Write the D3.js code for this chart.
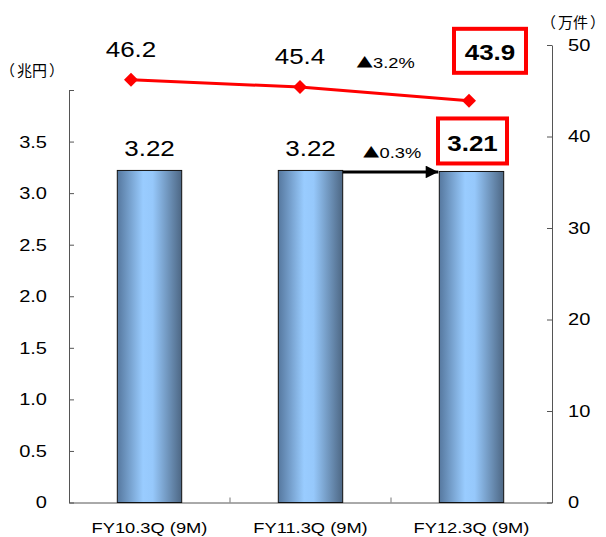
<!DOCTYPE html>
<html><head><meta charset="utf-8">
<script src="https://cdn.jsdelivr.net/npm/d3@7"></script>
<style>body{margin:0;background:#fff}svg{display:block}</style>
</head><body>
<script>
const categories = ["FY10.3Q (9M)", "FY11.3Q (9M)", "FY12.3Q (9M)"];
const amountTrillionYen = [3.22, 3.22, 3.21];
const amountLabels = ["3.22", "3.22", "3.21"];
const countTenThousand = [46.2, 45.4, 43.9];
const countLabels = ["46.2", "45.4", "43.9"];
const leftTicks = [0, 0.5, 1, 1.5, 2, 2.5, 3, 3.5, 4];
const leftTickLabels = ["0", "0.5", "1.0", "1.5", "2.0", "2.5", "3.0", "3.5", ""];
const rightTicks = [0, 10, 20, 30, 40, 50];
const rightTickLabels = ["0", "10", "20", "30", "40", "50"];
const leftUnit = ["（", "兆円", "）"];
const rightUnit = ["（", "万件", "）"];
const amountChange = ["▲", "0.3%"];
const countChange = ["▲", "3.2%"];

const W = 606, H = 537, SX = 1.18;
const FONT = "'Liberation Sans', Arial, sans-serif";
const JFONT = "'Noto Sans CJK JP', sans-serif";

const svg = d3.select("body").append("svg").attr("width", W).attr("height", H)
  .style("font-family", FONT);

const defs = svg.append("defs");
const grad = defs.append("linearGradient").attr("id", "barGrad")
  .attr("x1", "0").attr("x2", "1").attr("y1", "0").attr("y2", "0");
[[0, "#56789f"], [0.4, "#99ccff"], [0.55, "#96c8fb"], [1, "#4d6784"]].forEach(([o, c]) =>
  grad.append("stop").attr("offset", o).attr("stop-color", c));
const mk = defs.append("marker").attr("id", "arrowHead").attr("viewBox", "0 0 10 10")
  .attr("refX", 10).attr("refY", 5).attr("markerWidth", 4.6).attr("markerHeight", 4.2)
  .attr("orient", "auto").attr("markerUnits", "strokeWidth");
mk.append("path").attr("d", "M0,0L10,5L0,10Z").attr("fill", "#000");

const x = d3.scaleBand().domain(categories).range([69, 552]).paddingInner(0.6).paddingOuter(0.3);
const xLine = d3.scalePoint().domain(categories).range([131, 469]);
const yL = d3.scaleLinear().domain([0, 4]).range([502.5, 90]);
const yR = d3.scaleLinear().domain([0, 50]).range([502.5, 45]);

function stext(g, px, py, str, size, opts = {}) {
  return g.append("text")
    .attr("transform", `translate(${px},${py}) scale(${SX},1)`)
    .attr("text-anchor", opts.anchor || "middle")
    .attr("font-size", size)
    .attr("font-weight", opts.bold ? "bold" : "normal")
    .attr("font-family", opts.font || FONT)
    .attr("fill", "#000")
    .text(str);
}
function changeText(g, px, py, parts, size) {
  const t = g.append("text")
    .attr("transform", `translate(${px},${py}) scale(${SX},1)`)
    .attr("text-anchor", "middle").attr("font-size", size).attr("fill", "#000");
  t.append("tspan").attr("font-family", JFONT).attr("font-size", size * 0.92).text(parts[0]);
  t.append("tspan").attr("font-family", FONT).text(parts[1]);
  return t;
}
function unitText(g, px, py, parts, size) {
  const t = g.append("text").attr("x", px).attr("y", py).attr("text-anchor", "start")
    .attr("font-size", size).attr("font-family", JFONT).attr("fill", "#000");
  t.append("tspan").text(parts[0]);
  t.append("tspan").attr("dx", 2).text(parts[1]);
  t.append("tspan").attr("dx", 2).text(parts[2]);
  return t;
}
function stretchAxisText(g) {
  g.selectAll("text")
    .attr("x", function () { return (+this.getAttribute("x") || 0) / SX; })
    .attr("transform", `scale(${SX},1)`);
}

// Left axis
const gL = svg.append("g").attr("transform", "translate(69,0)")
  .call(d3.axisLeft(yL).tickValues(leftTicks).tickFormat((d, i) => leftTickLabels[i])
    .tickSizeInner(-5).tickSizeOuter(0).tickPadding(22));
gL.selectAll("text").attr("font-size", 17).attr("fill", "#000").attr("font-family", FONT);
gL.selectAll("line,path").attr("stroke", "#555");
stretchAxisText(gL);

// Right axis
const gR = svg.append("g").attr("transform", "translate(552,0)")
  .call(d3.axisRight(yR).tickValues(rightTicks).tickFormat((d, i) => rightTickLabels[i])
    .tickSizeInner(-5).tickSizeOuter(0).tickPadding(16));
gR.selectAll("text").attr("font-size", 17).attr("fill", "#000").attr("font-family", FONT);
gR.selectAll("line,path").attr("stroke", "#555");
stretchAxisText(gR);

// Bottom axis
const gB = svg.append("g").attr("transform", "translate(0,502.5)")
  .call(d3.axisBottom(x).tickSize(0).tickSizeOuter(0).tickPadding(19));
gB.selectAll("text").attr("font-size", 15.5).attr("fill", "#000").attr("font-family", FONT);
gB.select("path").attr("stroke", "#555");
stretchAxisText(gB);
gB.selectAll(".divider").data(categories.slice(0, -1)).enter().append("line")
  .attr("class", "divider")
  .attr("x1", d => x(d) + x.bandwidth() + (x.step() - x.bandwidth()) / 2)
  .attr("x2", d => x(d) + x.bandwidth() + (x.step() - x.bandwidth()) / 2)
  .attr("y1", 0).attr("y2", -5).attr("stroke", "#777");

// Bars
svg.append("g").selectAll("rect").data(categories).enter().append("rect")
  .attr("x", d => x(d)).attr("width", x.bandwidth())
  .attr("y", (d, i) => yL(amountTrillionYen[i]))
  .attr("height", (d, i) => yL(0) - yL(amountTrillionYen[i]))
  .attr("fill", "url(#barGrad)").attr("stroke", "#111").attr("stroke-width", 1);

// Arrow between bar 2 and bar 3
svg.append("line")
  .attr("x1", x(categories[1]) + x.bandwidth()).attr("x2", x(categories[2]) - 1)
  .attr("y1", yL(amountTrillionYen[1]) + 1.5).attr("y2", yL(amountTrillionYen[1]) + 1.5)
  .attr("stroke", "#000").attr("stroke-width", 3).attr("marker-end", "url(#arrowHead)");

// Line series
const line = d3.line().x((d, i) => xLine(categories[i])).y(d => yR(d));
svg.append("path").datum(countTenThousand).attr("d", line)
  .attr("fill", "none").attr("stroke", "#ff0000").attr("stroke-width", 3);
svg.append("g").selectAll("path").data(countTenThousand).enter().append("path")
  .attr("transform", (d, i) => `translate(${xLine(categories[i])},${yR(d)})`)
  .attr("d", "M0,-7L7,0L0,7L-7,0Z").attr("fill", "#ff0000");

// Line value labels
const last = categories.length - 1;
countLabels.forEach((s, i) => {
  if (i === last) return;
  stext(svg, xLine(categories[i]), yR(countTenThousand[i]) - 23, s, 22);
});
// Highlighted last count
{
  const cx = xLine(categories[last]) + 21, by = yR(countTenThousand[last]);
  svg.append("rect").attr("x", cx - 36).attr("y", by - 72).attr("width", 72).attr("height", 44)
    .attr("fill", "#fff").attr("stroke", "#ff0000").attr("stroke-width", 4);
  stext(svg, cx, by - 41, countLabels[last], 22, { bold: true });
}
// Bar value labels
amountLabels.forEach((s, i) => {
  if (i === last) return;
  stext(svg, x(categories[i]) + x.bandwidth() / 2, yL(amountTrillionYen[i]) - 14, s, 22);
});
{
  const cx = x(categories[last]) + x.bandwidth() / 2 + 1, top = yL(amountTrillionYen[last]);
  svg.append("rect").attr("x", cx - 34.5).attr("y", top - 53).attr("width", 69).attr("height", 45)
    .attr("fill", "#fff").attr("stroke", "#ff0000").attr("stroke-width", 4);
  stext(svg, cx, top - 20, amountLabels[last], 22, { bold: true });
}

// Change labels
changeText(svg, 385.5, 68, countChange, 15.5);
changeText(svg, 392, 158, amountChange, 15.5);

// Unit labels
unitText(svg, 0, 76, leftUnit, 15);
unitText(svg, 541, 28, rightUnit, 15);
</script>
</body></html>
